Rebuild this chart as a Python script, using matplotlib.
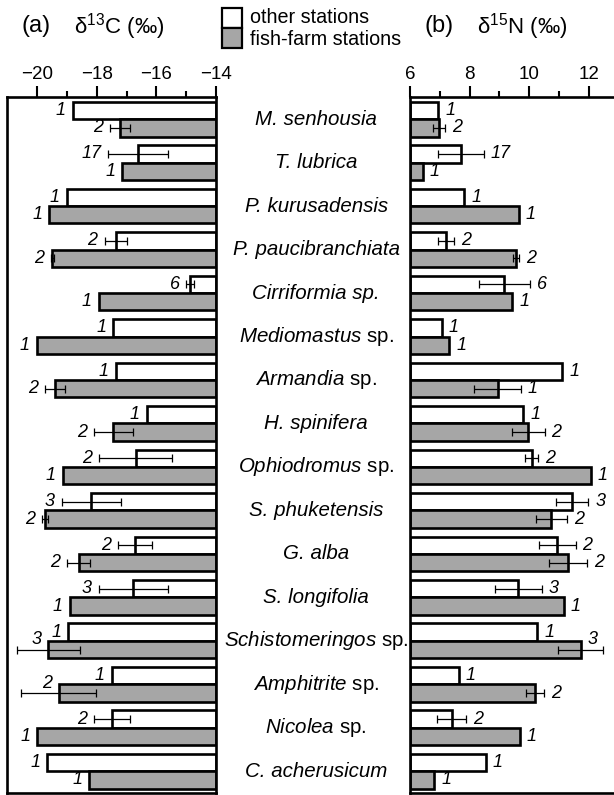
import numpy as np
import matplotlib
matplotlib.use("Agg")
from matplotlib import pyplot as plt
from matplotlib.patches import Rectangle
from matplotlib.transforms import blended_transform_factory

plt.rcParams['font.family'] = ['Liberation Sans', 'DejaVu Sans']
plt.rcParams['mathtext.fontset'] = 'custom'
plt.rcParams['mathtext.rm'] = 'Liberation Sans'
plt.rcParams['mathtext.it'] = 'Liberation Sans:italic'

# species, top to bottom (mathtext only where "sp." is upright)
species = ["M. senhousia", "T. lubrica", "P. kurusadensis",
           "P. paucibranchiata", "Cirriformia sp.", r"$\mathit{Mediomastus}$ sp.",
           r"$\mathit{Armandia}$ sp.", "H. spinifera", r"$\mathit{Ophiodromus}$ sp.",
           "S. phuketensis", "G. alba", "S. longifolia",
           r"$\mathit{Schistomeringos}$ sp.", r"$\mathit{Amphitrite}$ sp.", r"$\mathit{Nicolea}$ sp.",
           "C. acherusicum"]

# d13C
c_other = [-18.81, -16.61, -19.01, -17.36, -14.87, -17.45, -17.36, -16.33,
           -16.70, -18.19, -16.72, -16.77, -18.96, -17.50, -17.50, -19.66]
c_other_sd = [0, 1.0, 0, 0.38, 0.12, 0, 0, 0, 1.22, 0.99, 0.57, 1.17, 0, 0, 0.6, 0]
c_other_n = [1, 17, 1, 2, 6, 1, 1, 1, 2, 3, 2, 3, 1, 1, 2, 1]
c_farm = [-17.22, -17.14, -19.59, -19.49, -17.94, -20.02, -19.40, -17.45,
          -19.14, -19.72, -18.60, -18.90, -19.63, -19.27, -20.0, -18.25]
c_farm_sd = [0.35, 0, 0, 0.05, 0, 0, 0.32, 0.65, 0, 0.1, 0.39, 0, 1.06, 1.26, 0, 0]
c_farm_n = [2, 1, 1, 2, 1, 1, 2, 2, 1, 2, 2, 1, 3, 2, 1, 1]

# d15N
n_other = [6.95, 7.71, 7.82, 7.20, 9.17, 7.06, 11.12, 9.80,
           10.08, 11.45, 10.94, 9.64, 10.27, 7.64, 7.40, 8.54]
n_other_sd = [0, 0.77, 0, 0.27, 0.86, 0, 0, 0, 0.21, 0.54, 0.62, 0.78, 0, 0, 0.48, 0]
n_other_n = [1, 17, 1, 2, 6, 1, 1, 1, 2, 3, 2, 3, 1, 1, 2, 1]
n_farm = [6.97, 6.43, 9.66, 9.55, 9.43, 7.32, 8.94, 9.97,
          12.07, 10.75, 11.31, 11.17, 11.73, 10.19, 9.69, 6.82]
n_farm_sd = [0.2, 0, 0, 0.1, 0, 0, 0.78, 0.55, 0, 0.53, 0.65, 0, 0.76, 0.3, 0, 0]
n_farm_n = [2, 1, 1, 2, 1, 1, 1, 2, 1, 2, 2, 1, 3, 2, 1, 1]

gray = '#a6a6a6'
lw = 1.9
bh = 0.4

fig = plt.figure(figsize=(6.14, 7.95), dpi=100)
ax1 = fig.add_axes([0.0119, 0.0025, 0.3399, 0.875])
ax2 = fig.add_axes([0.6678, 0.0025, 0.3322, 0.875])

y = np.arange(len(species))


def draw_panel(ax, base, lim, vals_o, sd_o, cnt_o, vals_f, sd_f, cnt_f, side):
    for vals, sd, cnt, yy, col in [(vals_o, sd_o, cnt_o, y - bh / 2, 'white'),
                                   (vals_f, sd_f, cnt_f, y + bh / 2, gray)]:
        vals = np.array(vals)
        ax.barh(yy, vals - base, left=base, height=bh, color=col,
                edgecolor='black', linewidth=lw, zorder=2)
        sd = np.array(sd)
        m = sd > 0
        ax.errorbar(vals[m], yy[m], xerr=sd[m], fmt='none', ecolor='black',
                    elinewidth=0.9, capsize=3, capthick=0.9, zorder=3)
        for v, s, n, yi in zip(vals, sd, cnt, yy):
            end = v + side * s
            if (side < 0 and end - 0.5 < lim) or (side > 0 and end + 0.5 > lim):
                # no room beside the error bar: put number above, next to bar end
                ax.annotate(str(n), (v, yi), xytext=(side * 5, 7), textcoords='offset points',
                            ha='right' if side < 0 else 'left', va='center',
                            fontsize=13, style='italic', zorder=4)
            else:
                ax.annotate(str(n), (end, yi), xytext=(side * 5, 0), textcoords='offset points',
                            ha='right' if side < 0 else 'left', va='center',
                            fontsize=13, style='italic', zorder=4)
    ax.set_ylim(len(species) - 0.5, -0.5)
    ax.set_yticks([])
    ax.xaxis.tick_top()
    ax.tick_params(axis='x', which='major', length=8, width=1.5, labelsize=13.5, pad=2)
    ax.tick_params(axis='x', which='minor', length=4.3, width=1.5)
    ax.tick_params(axis='x', which='both', bottom=False)
    for sp in ax.spines.values():
        sp.set_linewidth(lw)


draw_panel(ax1, -14, -21, c_other, c_other_sd, c_other_n,
           c_farm, c_farm_sd, c_farm_n, -1)
ax1.set_xlim(-21, -14)
ax1.set_xticks([-20, -18, -16, -14])
ax1.set_xticklabels(['\u221220', '\u221218', '\u221216', '\u221214'])
ax1.set_xticks([-19, -17, -15], minor=True)

draw_panel(ax2, 6, 12.85, n_other, n_other_sd, n_other_n,
           n_farm, n_farm_sd, n_farm_n, 1)
ax2.set_xlim(6, 12.85)
ax2.set_xticks([6, 8, 10, 12])
ax2.set_xticks([7, 9, 11], minor=True)
ax2.spines['right'].set_visible(False)

# species names between the panels
tr = blended_transform_factory(fig.transFigure, ax1.transData)
for name, yi in zip(species, y):
    ax1.text(0.515, yi, name, transform=tr, ha='center', va='center',
             fontsize=14.8, style='normal' if '$' in name else 'italic', clip_on=False)

# headers
fig.text(0.035, 0.967, '(a)', fontsize=17, va='center')
fig.text(0.121, 0.967, r'δ$^{13}$C (‰)', fontsize=16, va='center')
fig.text(0.691, 0.967, '(b)', fontsize=17, va='center')
fig.text(0.777, 0.967, r'δ$^{15}$N (‰)', fontsize=16, va='center')

# legend boxes
fig.add_artist(Rectangle((0.3616, 0.9648), 0.0326, 0.0252, transform=fig.transFigure,
                         facecolor='white', edgecolor='black', linewidth=1.6))
fig.add_artist(Rectangle((0.3616, 0.9396), 0.0326, 0.0252, transform=fig.transFigure,
                         facecolor=gray, edgecolor='black', linewidth=1.6))
fig.text(0.407, 0.9774, 'other stations', fontsize=14.2, va='center')
fig.text(0.407, 0.9497, 'fish-farm stations', fontsize=14.2, va='center')

fig.savefig('out.png', dpi=100)
